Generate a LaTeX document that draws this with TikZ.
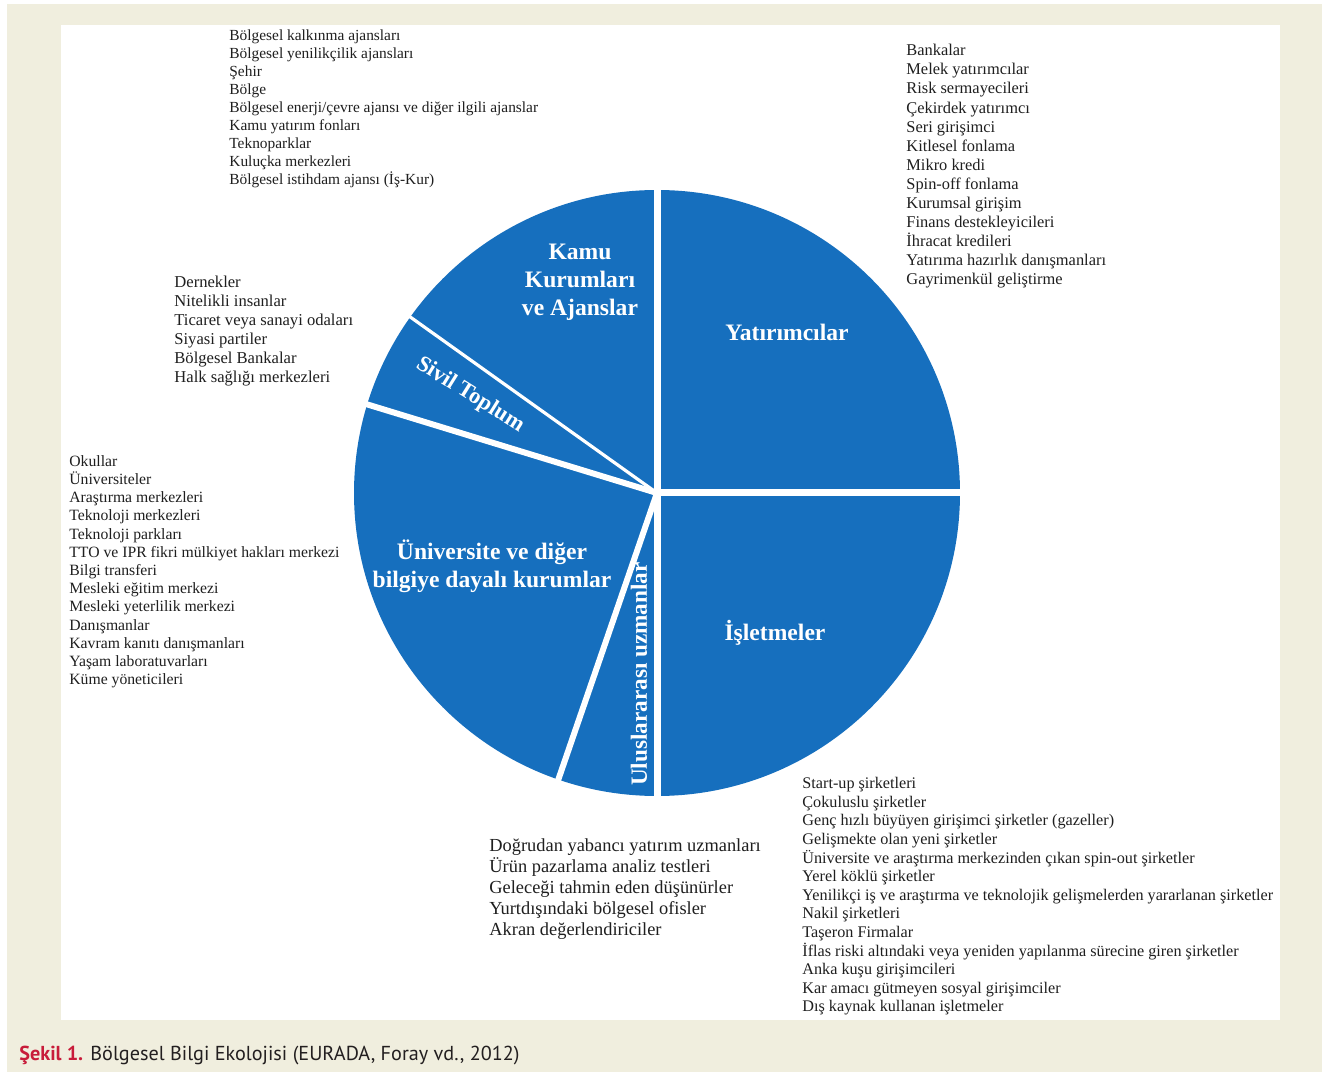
\documentclass[tikz,border=0pt]{standalone}
\usepackage{fontspec}
\setmainfont{Liberation Serif}
\newfontfamily\captionfont{PT Sans}
\usepackage{tikz}
\usetikzlibrary{calc}
\definecolor{pieblue}{RGB}{22,111,190}
\definecolor{backbeige}{RGB}{240,238,222}
\definecolor{capred}{RGB}{200,28,58}
\definecolor{capgray}{RGB}{35,31,32}

\begin{document}
\begin{tikzpicture}[x=0.5pt,y=0.5pt,
	every node/.style={inner sep=0pt},
	liste/.style={anchor=north west,align=left,text=black!88},
	dilim/.style={text=white,align=center,font=\bfseries\fontsize{11.8}{14}\selectfont},
	gap/.style={white,line cap=butt}]

	\useasboundingbox (0,0) rectangle (1322,1072);
	\fill[backbeige] (7,0) rectangle (1322,1068);
	\fill[white] (61,52) rectangle (1280,1047);

	% pasta
	\coordinate (O) at (657,579);
	\fill[pieblue] (O) circle (303);
	\draw[gap,line width=3.5pt] ($(O)+(0,310)$) -- ($(O)+(0,-310)$);
	\draw[gap,line width=3.5pt] (O) -- ++(0:310);
	\draw[gap,line width=1.6pt] (O) -- ++(144.5:310);
	\draw[gap,line width=3pt] (O) -- ++(163:310);
	\draw[gap,line width=3pt] (O) -- ++(251:310);

	\node[dilim] (sKamu) at (580,790) {Kamu\\Kurumları\\ve Ajanslar};
	\node[dilim] (sYat) at (787,740) {Yatırımcılar};
	\node[dilim] (sIsl) at (775,439) {İşletmeler};
	\node[dilim,rotate=-32,font=\bfseries\fontsize{11.3}{13}\selectfont] (sSivil) at (470,677) {Sivil Toplum};
	\node[dilim] (sUniv) at (492,506) {Üniversite ve diğer\\bilgiye dayalı kurumlar};
	\node[dilim,rotate=90,font=\bfseries\fontsize{11.6}{13}\selectfont] (sUlus) at (639,398) {Uluslararası uzmanlar};

	% listeler
	\node[liste,font=\fontsize{7.7}{9}\selectfont] (lKamu) at (229,1043) {%
		Bölgesel kalkınma ajansları\\
		Bölgesel yenilikçilik ajansları\\
		Şehir\\
		Bölge\\
		Bölgesel enerji/çevre ajansı ve diğer ilgili ajanslar\\
		Kamu yatırım fonları\\
		Teknoparklar\\
		Kuluçka merkezleri\\
		Bölgesel istihdam ajansı (İş-Kur)};

	\node[liste,font=\fontsize{8.2}{9.55}\selectfont] (lYat) at (906,1028) {%
		Bankalar\\
		Melek yatırımcılar\\
		Risk sermayecileri\\
		Çekirdek yatırımcı\\
		Seri girişimci\\
		Kitlesel fonlama\\
		Mikro kredi\\
		Spin-off fonlama\\
		Kurumsal girişim\\
		Finans destekleyicileri\\
		İhracat kredileri\\
		Yatırıma hazırlık danışmanları\\
		Gayrimenkül geliştirme};

	\node[liste,font=\fontsize{8.3}{9.5}\selectfont] (lSivil) at (174,796) {%
		Dernekler\\
		Nitelikli insanlar\\
		Ticaret veya sanayi odaları\\
		Siyasi partiler\\
		Bölgesel Bankalar\\
		Halk sağlığı merkezleri};

	\node[liste,font=\fontsize{7.85}{9.1}\selectfont] (lUniv) at (69,617) {%
		Okullar\\
		Üniversiteler\\
		Araştırma merkezleri\\
		Teknoloji merkezleri\\
		Teknoloji parkları\\
		TTO ve IPR fikri mülkiyet hakları merkezi\\
		Bilgi transferi\\
		Mesleki eğitim merkezi\\
		Mesleki yeterlilik merkezi\\
		Danışmanlar\\
		Kavram kanıtı danışmanları\\
		Yaşam laboratuvarları\\
		Küme yöneticileri};

	\node[liste,font=\fontsize{9.2}{10.6}\selectfont] (lUlus) at (489,234) {%
		Doğrudan yabancı yatırım uzmanları\\
		Ürün pazarlama analiz testleri\\
		Geleceği tahmin eden düşünürler\\
		Yurtdışındaki bölgesel ofisler\\
		Akran değerlendiriciler};

	\node[liste,font=\fontsize{8.1}{9.3}\selectfont] (lIsl) at (802,295) {%
		Start-up şirketleri\\
		Çokuluslu şirketler\\
		Genç hızlı büyüyen girişimci şirketler (gazeller)\\
		Gelişmekte olan yeni şirketler\\
		Üniversite ve araştırma merkezinden çıkan spin-out şirketler\\
		Yerel köklü şirketler\\
		Yenilikçi iş ve araştırma ve teknolojik gelişmelerden yararlanan şirketler\\
		Nakil şirketleri\\
		Taşeron Firmalar\\
		İflas riski altındaki veya yeniden yapılanma sürecine giren şirketler\\
		Anka kuşu girişimcileri\\
		Kar amacı gütmeyen sosyal girişimciler\\
		Dış kaynak kullanan işletmeler};

	% alt yazi
	\node[anchor=base west,font=\captionfont\fontsize{10.1}{12}\selectfont,text=capgray] (cap) at (19,12)
		{\textcolor{capred}{\bfseries Şekil 1.} Bölgesel Bilgi Ekolojisi (EURADA, Foray vd., 2012)};

\end{tikzpicture}
\end{document}
